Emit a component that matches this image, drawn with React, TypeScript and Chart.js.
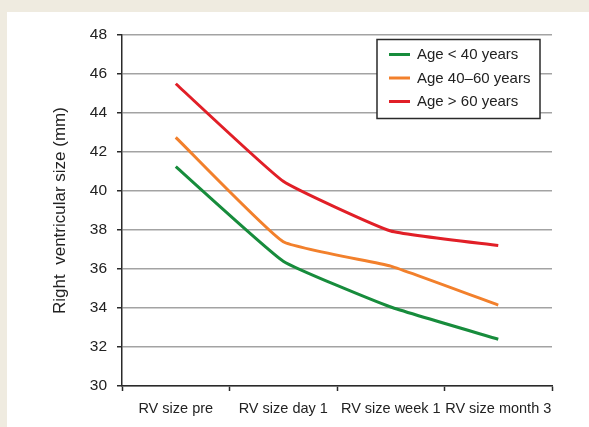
import React, { useEffect, useRef } from "react";
import { Chart, registerables } from "chart.js";

Chart.register(...registerables);

const categories = ["RV size pre", "RV size day 1", "RV size week 1", "RV size month 3"];
const seriesLabels = ["Age < 40 years", "Age 40\u201360 years", "Age > 60 years"];
const ageUnder40 = [41.25, 36.4, 34.05, 32.4];
const age40to60 = [42.75, 37.4, 36.15, 34.15];
const ageOver60 = [45.5, 40.5, 37.95, 37.2];
const seriesColors = ["#178c3c", "#f2802c", "#e11f27"];
const yMin = 30;
const yMax = 48;
const yStep = 2;
const yTitle = "Right  ventricular size (mm)";

const FONT = "'Liberation Sans', Arial, Helvetica, sans-serif";

const boxLegend = {
  id: "boxLegend",
  afterDraw(chart: any) {
    const ctx = chart.ctx;
    const left = 377;
    const top = 39.5;
    const w = 163;
    const h = 79;
    ctx.save();
    ctx.fillStyle = "#ffffff";
    ctx.fillRect(left, top, w, h);
    ctx.strokeStyle = "#2a2a2a";
    ctx.lineWidth = 1.5;
    ctx.strokeRect(left, top, w, h);
    ctx.font = `15px ${FONT}`;
    ctx.textBaseline = "middle";
    ctx.textAlign = "left";
    chart.data.datasets.forEach((ds: any, i: number) => {
      const y = top + 15 + i * 23.5;
      ctx.strokeStyle = ds.borderColor;
      ctx.lineWidth = 3;
      ctx.beginPath();
      ctx.moveTo(left + 12, y);
      ctx.lineTo(left + 33, y);
      ctx.stroke();
      ctx.fillStyle = "#222222";
      ctx.fillText(ds.label, left + 40, y + 0.5);
    });
    ctx.restore();
  },
};

export default function App() {
  const ref = useRef<HTMLCanvasElement | null>(null);

  useEffect(() => {
    if (!ref.current) return;
    const values = [ageUnder40, age40to60, ageOver60];
    const chart = new Chart(ref.current, {
      type: "line",
      data: {
        labels: categories,
        datasets: values.map((v, i) => ({
          label: seriesLabels[i],
          data: v,
          borderColor: seriesColors[i],
          backgroundColor: seriesColors[i],
          borderWidth: 3,
          pointRadius: 0,
          tension: 0.12,
          fill: false,
        })),
      },
      options: {
        animation: false,
        responsive: false,
        devicePixelRatio: 1,
        layout: { padding: { left: 0, right: 37, top: 35, bottom: 0 } },
        plugins: {
          legend: { display: false },
          tooltip: { enabled: false },
        },
        scales: {
          x: {
            type: "category",
            offset: true,
            afterFit(scale: any) {
              scale.height = 41;
            },
            grid: {
              display: true,
              drawOnChartArea: false,
              offset: true,
              tickLength: 5,
              tickColor: "#2a2a2a",
              tickWidth: 1.5,
            },
            border: { display: true, color: "#2a2a2a", width: 1.5 },
            ticks: {
              color: "#222222",
              font: { family: FONT, size: 14.5 },
              padding: 9,
              maxRotation: 0,
              autoSkip: false,
            },
          },
          y: {
            min: yMin,
            max: yMax,
            afterFit(scale: any) {
              scale.width = 122;
            },
            grid: {
              color: "#a3a3a3",
              lineWidth: 1.5,
              tickLength: 5,
              tickColor: "#2a2a2a",
              tickWidth: 1.5,
            },
            border: { display: true, color: "#2a2a2a", width: 1.5 },
            ticks: {
              stepSize: yStep,
              color: "#222222",
              font: { family: FONT, size: 15.5 },
              padding: 10,
            },
            title: {
              display: true,
              text: yTitle,
              color: "#222222",
              font: { family: FONT, size: 17 },
              padding: { top: 50, bottom: 0 },
            },
          },
        },
      },
      plugins: [boxLegend],
    });
    return () => chart.destroy();
  }, []);

  return (
    <div
      style={{
        position: "absolute",
        left: 0,
        top: 0,
        width: 589,
        height: 427,
        background: "#efebe0",
        overflow: "hidden",
      }}
    >
      <div
        style={{
          position: "absolute",
          left: 7,
          top: 12,
          width: 582,
          height: 415,
          background: "#ffffff",
        }}
      />
      <canvas
        ref={ref}
        width={589}
        height={427}
        style={{ position: "absolute", left: 0, top: 0, width: 589, height: 427 }}
      />
    </div>
  );
}
